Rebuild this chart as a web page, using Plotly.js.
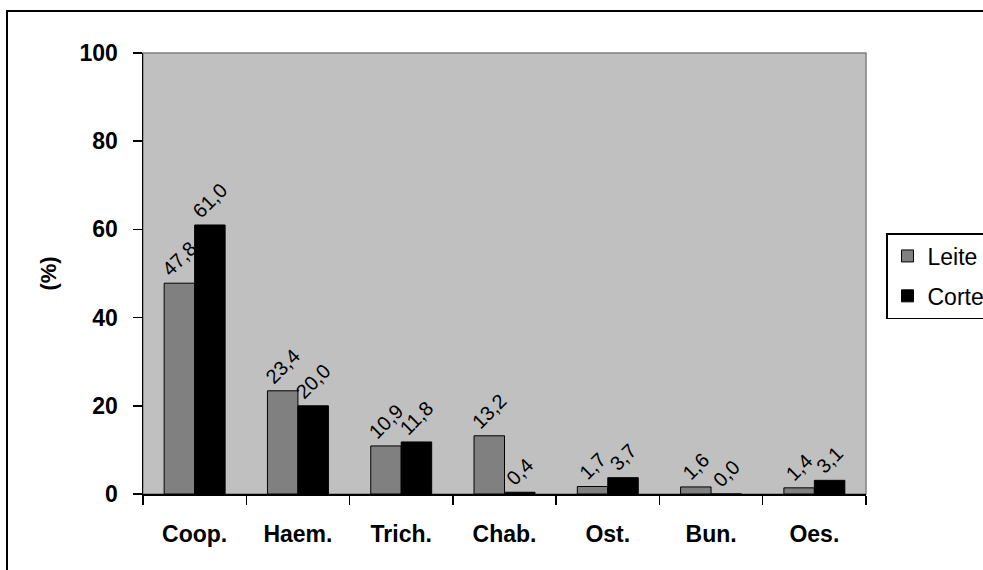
<!DOCTYPE html>
<html>
<head>
<meta charset="utf-8">
<script src="https://cdn.plot.ly/plotly-3.0.1.min.js"></script>
<style>
  html, body { margin: 0; padding: 0; background: #fff; }
  #chart { width: 983px; height: 570px; }
</style>
</head>
<body>
<div id="chart"></div>
<script>
const categories = ["Coop.", "Haem.", "Trich.", "Chab.", "Ost.", "Bun.", "Oes."];
const leite = [47.8, 23.4, 10.9, 13.2, 1.7, 1.6, 1.4];
const corte = [61.0, 20.0, 11.8, 0.4, 3.7, 0.0, 3.1];
const seriesNames = ["Leite", "Corte"];
const yTicks = [0, 20, 40, 60, 80, 100];

const FONT = "Liberation Sans, Arial, sans-serif";

function fmt(v) { return v.toFixed(1).replace(".", ","); }

const common = {
  type: "bar",
  x: categories,
  textposition: "outside",
  textangle: -45,
  constraintext: "none",
  cliponaxis: false,
  textfont: { family: FONT, size: 20, color: "#000" },
  hoverinfo: "skip"
};

const traces = [
  Object.assign({}, common, {
    name: seriesNames[0],
    legendgroup: "a",
    y: leite,
    text: leite.map(fmt),
    marker: { color: "#808080", line: { color: "#000", width: 1 } }
  }),
  Object.assign({}, common, {
    name: seriesNames[1],
    legendgroup: "b",
    y: corte,
    text: corte.map(fmt),
    marker: { color: "#000000", line: { color: "#000", width: 1 } }
  })
];

const layout = {
  width: 983,
  height: 570,
  margin: { l: 143, r: 117, t: 53, b: 76, pad: 0, autoexpand: false },
  paper_bgcolor: "#ffffff",
  plot_bgcolor: "#C0C0C0",
  font: { family: FONT, size: 16, color: "#000" },
  barmode: "group",
  bargap: 0.41,
  bargroupgap: 0,
  showlegend: true,
  legend: {
    x: (886 - 143) / 723, xanchor: "left",
    y: (494 - 233) / 441, yanchor: "top",
    bordercolor: "#000", borderwidth: 1.5,
    bgcolor: "#fff",
    font: { family: FONT, size: 23, color: "#000" },
    tracegroupgap: 7,
    itemclick: false
  },
  xaxis: {
    type: "category",
    showline: true, linecolor: "#000", linewidth: 1.5,
    ticks: "outside", ticklen: 9, tickcolor: "#000", tickwidth: 1.5,
    tickson: "boundaries",
    ticklabelstandoff: 19,
    tickfont: { family: FONT, size: 23, color: "#000", weight: "bold" },
    showgrid: false, zeroline: false, fixedrange: true
  },
  yaxis: {
    range: [0, 100],
    tickvals: yTicks,
    ticktext: yTicks.map(String),
    showline: true, linecolor: "#000", linewidth: 1.5,
    ticks: "outside", ticklen: 9, tickcolor: "#000", tickwidth: 1.5,
    ticklabelstandoff: 10,
    tickfont: { family: FONT, size: 23, color: "#000", weight: "bold" },
    showgrid: false, zeroline: false, fixedrange: true,
    title: { text: "(%)", font: { family: FONT, size: 22, color: "#000", weight: "bold" }, standoff: 17 }
  },
  shapes: [
    { type: "rect", xref: "paper", yref: "paper", x0: 0, x1: 1, y0: 0, y1: 1,
      line: { color: "#808080", width: 1.5 }, layer: "below" },
    { type: "rect", xref: "paper", yref: "paper",
      x0: (7 - 143) / 723, x1: 1.25, y0: -0.3, y1: (494 - 11) / 441,
      line: { color: "#000", width: 2 }, layer: "above" }
  ]
};

Plotly.newPlot("chart", traces, layout, { displayModeBar: false, staticPlot: true });
</script>
</body>
</html>
